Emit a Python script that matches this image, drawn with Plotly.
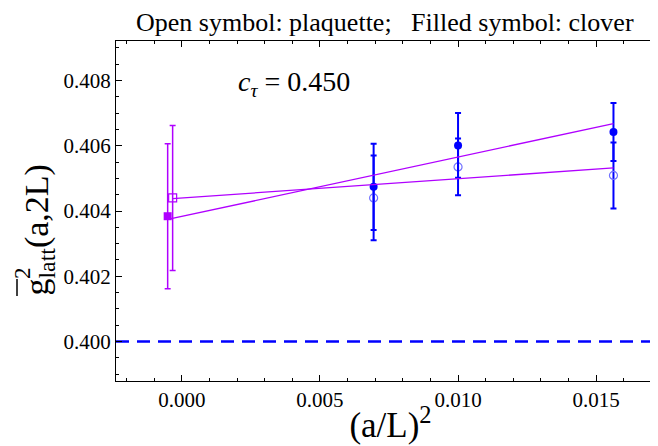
import plotly.graph_objects as go

# ---- data ----
x_lat = [0.006944, 0.01, 0.015625]
clover = [0.40474, 0.40601, 0.40642]
clover_err = [0.00132, 0.00099, 0.00089]
plaq = [0.40440, 0.40535, 0.40509]
plaq_err = [0.00130, 0.00087, 0.00101]

x_ext_clover = [-0.00051]
ext_clover = [0.40384]
ext_clover_err = [0.00222]
x_ext_plaq = [-0.00033]
ext_plaq = [0.40440]
ext_plaq_err = [0.00222]

fit_clover_x = [-0.00051, 0.015625]
fit_clover_y = [0.40374, 0.40668]
fit_plaq_x = [-0.00033, 0.015625]
fit_plaq_y = [0.40438, 0.40532]

ref_value = 0.400
x_range = [-0.00238, 0.01749]
y_range = [0.39879, 0.40921]

BLUE = "#0000ff"
LBLUE = "#7070ff"
PURPLE = "#b000ff"
FONT = "Liberation Serif"

fig = go.Figure()

# reference dashed line
fig.add_trace(go.Scatter(x=x_range, y=[ref_value, ref_value], mode="lines",
                         line=dict(color=BLUE, width=2.5, dash="13px,8px"),
                         hoverinfo="skip"))

# plaquette (open) lattice points
fig.add_trace(go.Scatter(x=x_lat, y=plaq, mode="markers",
                         marker=dict(symbol="circle-open", size=8, color=LBLUE,
                                     line=dict(width=1.2, color=LBLUE)),
                         error_y=dict(type="data", array=plaq_err, color=BLUE,
                                      thickness=2, width=3)))
# clover (filled) lattice points
fig.add_trace(go.Scatter(x=x_lat, y=clover, mode="markers",
                         marker=dict(symbol="circle", size=8, color=BLUE),
                         error_y=dict(type="data", array=clover_err, color=BLUE,
                                      thickness=2, width=3)))

# fit lines
fig.add_trace(go.Scatter(x=fit_clover_x, y=fit_clover_y, mode="lines",
                         line=dict(color=PURPLE, width=1.3)))
fig.add_trace(go.Scatter(x=fit_plaq_x, y=fit_plaq_y, mode="lines",
                         line=dict(color=PURPLE, width=1.3)))

# extrapolated points
fig.add_trace(go.Scatter(x=x_ext_clover, y=ext_clover, mode="markers",
                         marker=dict(symbol="square", size=8, color=PURPLE),
                         error_y=dict(type="data", array=ext_clover_err, color=PURPLE,
                                      thickness=1.5, width=3)))
fig.add_trace(go.Scatter(x=x_ext_plaq, y=ext_plaq, mode="markers",
                         marker=dict(symbol="square-open", size=8, color=PURPLE,
                                     line=dict(width=1.2, color=PURPLE)),
                         error_y=dict(type="data", array=ext_plaq_err, color=PURPLE,
                                      thickness=1.5, width=3)))

L, R, T, B = 108, 1, 33, 73
W, H = 658, 446
pw, ph = W - L - R, H - T - B


def px(xp):
    return (xp - L) / pw


def py(yp):
    return (H - B - yp) / ph


axis_common = dict(showline=True, linecolor="black", linewidth=1, mirror="ticks",
                   ticks="inside", ticklen=6, tickcolor="black", tickwidth=1,
                   showgrid=False, zeroline=False, tickformat=".3f",
                   tickfont=dict(family=FONT, size=21, color="black"))

fig.update_layout(
    width=W, height=H, margin=dict(l=L, r=R, t=T, b=B),
    paper_bgcolor="white", plot_bgcolor="white", showlegend=False,
    font=dict(family=FONT, color="black"),
    xaxis=dict(range=x_range, dtick=0.005, tick0=0,
               minor=dict(dtick=0.001, tick0=0, ticklen=3, ticks="inside", tickcolor="black"),
               title=dict(text="(a/L)<sup>2</sup>", font=dict(family=FONT, size=35), standoff=1),
               **axis_common),
    yaxis=dict(range=y_range, dtick=0.002, tick0=0.4,
               minor=dict(dtick=0.0005, tick0=0.4, ticklen=3, ticks="inside", tickcolor="black"),
               **axis_common),
    annotations=[
        dict(text="Open symbol: plaquette;   Filled symbol: clover", xref="paper", yref="paper",
             x=px(377), y=py(15), xanchor="center", yanchor="middle", showarrow=False,
             font=dict(family=FONT, size=26, color="black")),
        dict(text="<i>c</i><sub><i>τ</i></sub> = 0.450", xref="paper", yref="paper",
             x=px(286), y=py(75), xanchor="center", yanchor="middle", showarrow=False,
             font=dict(family=FONT, size=28, color="black")),
        dict(text="g<sub>latt</sub>(a,2L)", xref="paper", yref="paper",
             x=px(30), y=py(290), xanchor="center", yanchor="bottom", showarrow=False,
             textangle=-90, font=dict(family=FONT, size=34, color="black")),
        dict(text="2", xref="paper", yref="paper",
             x=px(14), y=py(265), xanchor="center", yanchor="middle", showarrow=False,
             textangle=-90, font=dict(family=FONT, size=23, color="black")),
    ],
    shapes=[
        dict(type="line", xref="paper", yref="paper", x0=px(9), x1=px(9),
             y0=py(271), y1=py(288), line=dict(color="black", width=1.5)),
    ],
)

fig.write_html("out.html")
